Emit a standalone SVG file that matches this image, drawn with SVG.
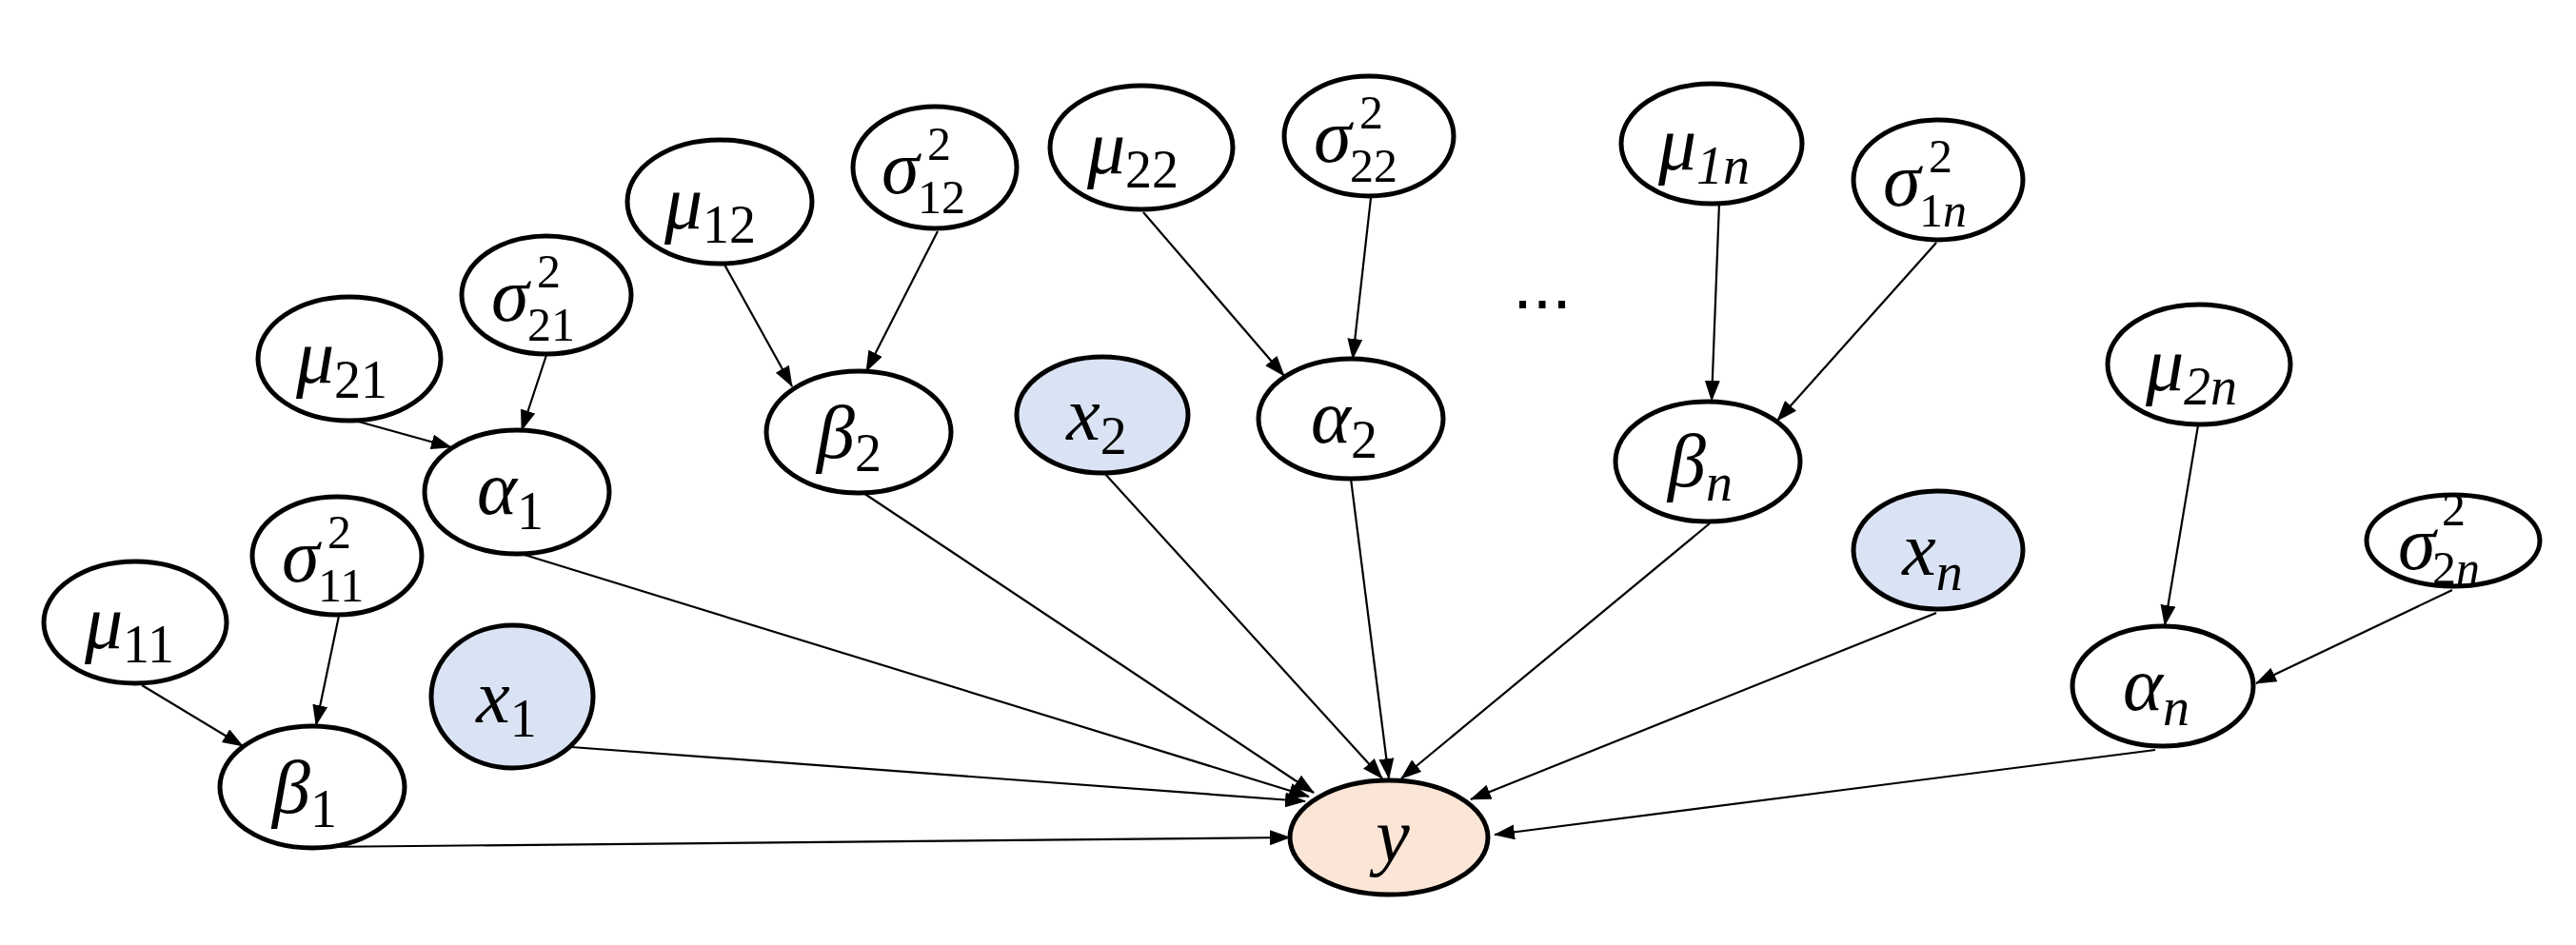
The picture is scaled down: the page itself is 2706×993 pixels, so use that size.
<svg xmlns="http://www.w3.org/2000/svg" width="2706" height="993" viewBox="0 0 2706 993">
<style>
.n{fill:#fff;stroke:#000;stroke-width:5}
.obs{fill:#dae3f3}
.out{fill:#fbe5d6}
.t{font-family:"Liberation Serif","DejaVu Serif",serif;font-style:italic;font-size:80px;fill:#000}
.s{font-style:normal;font-size:56px}
.si{font-style:italic;font-size:56px}
.p{font-style:normal;font-size:50px}
.pi{font-style:italic;font-size:50px}
.e{stroke:#000;stroke-width:2.2;fill:none;marker-end:url(#ah)}
.dots{font-family:"Liberation Sans",Arial,sans-serif;font-size:74px;fill:#000}
</style>
<defs>
<marker id="ah" markerUnits="userSpaceOnUse" markerWidth="22" markerHeight="16" refX="21" refY="8" orient="auto">
<path d="M0,0 L22,8 L0,16 Z" fill="#000"/>
</marker>
</defs>
<rect width="2706" height="993" fill="#fff"/>
<g id="connectors">
<line class="e" x1="149" y1="720" x2="255" y2="784"/>
<line class="e" x1="356" y1="647" x2="332" y2="762"/>
<line class="e" x1="373" y1="442" x2="474" y2="470"/>
<line class="e" x1="574" y1="373" x2="548" y2="452"/>
<line class="e" x1="761" y1="278" x2="832" y2="406"/>
<line class="e" x1="985" y1="243" x2="910" y2="390"/>
<line class="e" x1="1201" y1="223" x2="1349" y2="395"/>
<line class="e" x1="1440" y1="208" x2="1421" y2="377"/>
<line class="e" x1="1806" y1="213" x2="1798" y2="421"/>
<line class="e" x1="2034" y1="255" x2="1867" y2="442"/>
<line class="e" x1="2309" y1="447" x2="2274" y2="657"/>
<line class="e" x1="2576" y1="620" x2="2370" y2="718"/>
<line class="e" x1="333" y1="890" x2="1355" y2="880"/>
<line class="e" x1="600" y1="785" x2="1371" y2="842"/>
<line class="e" x1="551" y1="583" x2="1375" y2="837"/>
<line class="e" x1="907" y1="518" x2="1380" y2="833"/>
<line class="e" x1="1160" y1="497" x2="1452" y2="818"/>
<line class="e" x1="1419" y1="503" x2="1459" y2="818"/>
<line class="e" x1="1796" y1="550" x2="1472" y2="818"/>
<line class="e" x1="2034" y1="644" x2="1545" y2="840"/>
<line class="e" x1="2264" y1="788" x2="1570" y2="877"/>
</g>
<g id="mu11"><ellipse class="n" cx="142" cy="654" rx="96" ry="64"/><text class="t" x="136" y="681" text-anchor="middle">μ<tspan class="s" dy="15">11</tspan></text></g>
<g id="sigma11"><ellipse class="n" cx="354" cy="584" rx="89" ry="62"/><text class="t" x="296" y="611">σ<tspan class="p" x="344" y="576">2</tspan><tspan class="p" x="334" y="632">11</tspan></text></g>
<g id="beta1"><ellipse class="n" cx="328" cy="827" rx="97" ry="64"/><text class="t" x="320" y="854" text-anchor="middle">β<tspan class="s" dy="15">1</tspan></text></g>
<g id="x1"><ellipse class="n obs" cx="538" cy="732" rx="85" ry="75"/><text class="t" x="532" y="759" text-anchor="middle">x<tspan class="s" dy="15">1</tspan></text></g>
<g id="mu21"><ellipse class="n" cx="367" cy="377" rx="96" ry="65"/><text class="t" x="359" y="402" text-anchor="middle">μ<tspan class="s" dy="16">21</tspan></text></g>
<g id="sigma21"><ellipse class="n" cx="574" cy="310" rx="89" ry="62"/><text class="t" x="516" y="337">σ<tspan class="p" x="564" y="302">2</tspan><tspan class="p" x="554" y="358">21</tspan></text></g>
<g id="alpha1"><ellipse class="n" cx="543" cy="517" rx="97" ry="65"/><text class="t" x="536" y="540" text-anchor="middle">α<tspan class="s" dy="16">1</tspan></text></g>
<g id="mu12"><ellipse class="n" cx="756" cy="212" rx="97" ry="65"/><text class="t" x="746" y="240" text-anchor="middle">μ<tspan class="s" dy="15">12</tspan></text></g>
<g id="sigma12"><ellipse class="n" cx="982" cy="176" rx="86" ry="64"/><text class="t" x="926" y="203">σ<tspan class="p" x="974" y="168">2</tspan><tspan class="p" x="964" y="224">12</tspan></text></g>
<g id="beta2"><ellipse class="n" cx="902" cy="454" rx="97" ry="64"/><text class="t" x="892" y="481" text-anchor="middle">β<tspan class="s" dy="14">2</tspan></text></g>
<g id="x2"><ellipse class="n obs" cx="1158" cy="436" rx="90" ry="61"/><text class="t" x="1152" y="462" text-anchor="middle">x<tspan class="s" dy="15">2</tspan></text></g>
<g id="mu22"><ellipse class="n" cx="1199" cy="155" rx="96" ry="65"/><text class="t" x="1190" y="182" text-anchor="middle">μ<tspan class="s" dy="15">22</tspan></text></g>
<g id="sigma22"><ellipse class="n" cx="1438" cy="143" rx="89" ry="63"/><text class="t" x="1380" y="170">σ<tspan class="p" x="1428" y="135">2</tspan><tspan class="p" x="1418" y="191">22</tspan></text></g>
<g id="alpha2"><ellipse class="n" cx="1419" cy="440" rx="97" ry="63"/><text class="t" x="1412" y="465" text-anchor="middle">α<tspan class="s" dy="16">2</tspan></text></g>
<g id="ellipsis"><text class="dots" x="1620" y="324" text-anchor="middle">...</text></g>
<g id="mu1n"><ellipse class="n" cx="1798" cy="151" rx="95" ry="63"/><text class="t" x="1790" y="178" text-anchor="middle">μ<tspan class="si" dy="15">1n</tspan></text></g>
<g id="sigma1n"><ellipse class="n" cx="2036" cy="189" rx="89" ry="63"/><text class="t" x="1978" y="216">σ<tspan class="p" x="2026" y="181">2</tspan><tspan class="p" x="2016" y="238">1</tspan><tspan class="pi">n</tspan></text></g>
<g id="betan"><ellipse class="n" cx="1794" cy="485" rx="97" ry="63"/><text class="t" x="1786" y="511" text-anchor="middle">β<tspan class="si" dy="15">n</tspan></text></g>
<g id="xn"><ellipse class="n obs" cx="2036" cy="578" rx="89" ry="62"/><text class="t" x="2030" y="604" text-anchor="middle">x<tspan class="si" dy="16">n</tspan></text></g>
<g id="mu2n"><ellipse class="n" cx="2310" cy="383" rx="96" ry="63"/><text class="t" x="2302" y="410" text-anchor="middle">μ<tspan class="si" dy="15">2n</tspan></text></g>
<g id="sigma2n"><ellipse class="n" cx="2577" cy="568" rx="91" ry="48"/><text class="t" x="2519" y="598">σ<tspan class="p" x="2565" y="552">2</tspan><tspan class="p" x="2555" y="614">2</tspan><tspan class="pi">n</tspan></text></g>
<g id="alphan"><ellipse class="n" cx="2272" cy="721" rx="95" ry="63"/><text class="t" x="2265" y="746" text-anchor="middle">α<tspan class="si" dy="16">n</tspan></text></g>
<g id="y"><ellipse class="n out" cx="1459" cy="880" rx="104" ry="60"/><text class="t" x="1463" y="905" text-anchor="middle">y</text></g>
</svg>
